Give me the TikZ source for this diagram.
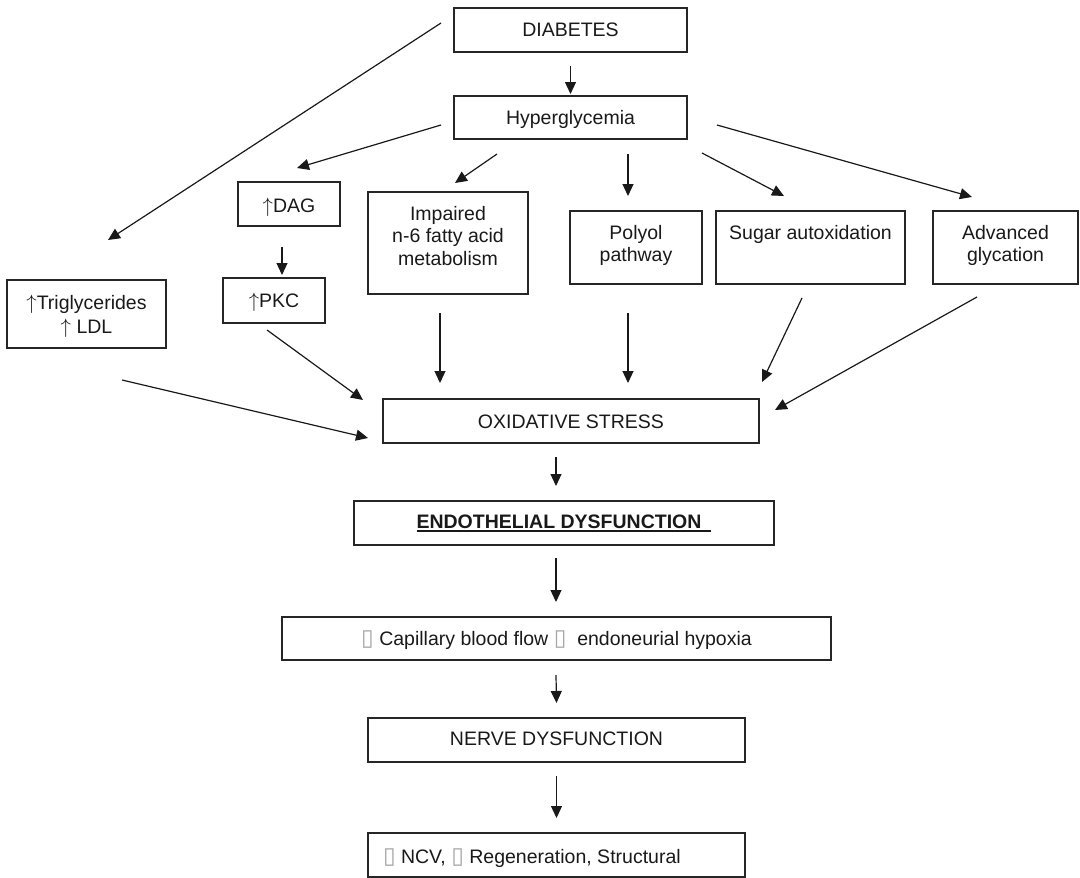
\documentclass[tikz,border=0pt]{standalone}
\usepackage{fontspec}
\setmainfont{Liberation Sans}
\newfontfamily\dejavu{DejaVu Sans}
\usetikzlibrary{arrows.meta}
\newcommand{\bt}[4]{\parbox[c][#2pt][t]{#1pt}{\centering\rule{0pt}{#3pt}#4}}
\newcommand{\nb}{{\dejavu\color{black!35}\fontsize{23}{23}\selectfont ▯}}
\newcommand{\up}{\ensuremath{\uparrow}}
\newcommand{\ulbox}[1]{\setbox0\hbox{#1}\rlap{\rule[-3.5pt]{\wd0}{1.5pt}}\box0}
\begin{document}
\begin{tikzpicture}[x=1pt,y=-1pt,
  bx/.style={draw=black!85, line width=1.3pt, inner sep=0pt, outer sep=0pt, anchor=north west,
    font=\fontsize{19.5}{22.5}\selectfont, text=black!90},
  arr/.style={-{Triangle[length=12pt,width=11pt]}, line width=1.2pt, draw=black!90}]
\useasboundingbox (0,0) rectangle (1080,878);
\node[bx] (diab)  at (454,8)   {\bt{233}{44}{28}{DIABETES}};
\node[bx] (hyper) at (454,96)  {\bt{233}{43}{28}{Hyperglycemia}};
\node[bx] (dag)   at (238,182) {\bt{102}{44}{30}{\up DAG}};
\node[bx] (pkc)   at (223,278) {\bt{102}{45}{29}{\up PKC}};
\node[bx] (trig)  at (7,280)   {\bt{159}{68}{29}{\up Triglycerides\\[1.5pt]\up\ LDL}};
\node[bx] (imp)   at (368,192) {\bt{160}{102}{28}{Impaired\\n-6 fatty acid\\metabolism}};
\node[bx] (poly)  at (570,211) {\bt{132}{73}{28}{Polyol\\pathway}};
\node[bx] (sugar) at (716,211) {\bt{189}{73}{28}{Sugar autoxidation}};
\node[bx] (adv)   at (933,211) {\bt{145}{73}{28}{Advanced\\glycation}};
\node[bx] (ox)    at (383,399) {\bt{376}{44}{29}{OXIDATIVE STRESS}};
\node[bx] (endo)  at (354,501) {\bt{420}{44}{27}{\ulbox{\bfseries ENDOTHELIAL DYSFUNCTION\hspace{10pt}}}};
\node[bx] (cap)   at (282,617) {\bt{549}{43}{28}{\nb\ Capillary blood flow \nb\ \ endoneurial hypoxia}};
\node[bx] (nerve) at (368,718) {\bt{377}{44}{27}{NERVE DYSFUNCTION}};
\node[bx] (bot)   at (368,833) {\parbox[c][44pt][t]{377pt}{\rule{0pt}{30pt}\hspace*{15pt}\nb\ NCV, \nb\ Regeneration, Structural}};

\draw[arr] ([shift={(0,14)}]diab.south) -- ([shift={(0,-2)}]hyper.north);
\draw[arr] ([shift={(-13,-7)}]diab.west) -- ([shift={(21.5,-40)}]trig.north);
\draw[arr] ([shift={(-13,7.5)}]hyper.west) -- ([shift={(8,-14)}]dag.north);
\draw[arr] ([shift={(-73.5,15)}]hyper.south) -- ([shift={(7,-9)}]imp.north);
\draw[arr] ([shift={(57.5,15)}]hyper.south) -- ([shift={(-8,-15)}]poly.north);
\draw[arr] ([shift={(131.5,14)}]hyper.south) -- ([shift={(-26.5,-15)}]sugar.north);
\draw[arr] ([shift={(30,7.5)}]hyper.east) -- ([shift={(-33.5,-14)}]adv.north);
\draw[arr] ([shift={(-7,21)}]dag.south) -- ([shift={(8,-3)}]pkc.north);
\draw[arr] ([shift={(35.5,32)}]trig.south) -- ([shift={(-15,17)}]ox.west);
\draw[arr] ([shift={(-7,7)}]pkc.south) -- ([shift={(-20,1)}]ox.north west);
\draw[arr] ([shift={(-8,19)}]imp.south) -- ([shift={(-131,-16)}]ox.north);
\draw[arr] ([shift={(-8,29)}]poly.south) -- ([shift={(57,-16)}]ox.north);
\draw[arr] ([shift={(-8.5,14)}]sugar.south) -- ([shift={(3,-17)}]ox.north east);
\draw[arr] ([shift={(-28.5,13)}]adv.south) -- ([shift={(16,-11)}]ox.east);
\draw[arr] ([shift={(-15,14)}]ox.south) -- ([shift={(-8,-15)}]endo.north);
\draw[arr] ([shift={(-8,13)}]endo.south) -- ([shift={(-0.5,-15)}]cap.north);
\draw[arr] ([shift={(-0.5,15)}]cap.south) -- ([shift={(0,-15)}]nerve.north);
\draw[arr] ([shift={(0,14)}]nerve.south) -- ([shift={(0,-15)}]bot.north);
\end{tikzpicture}
\end{document}
